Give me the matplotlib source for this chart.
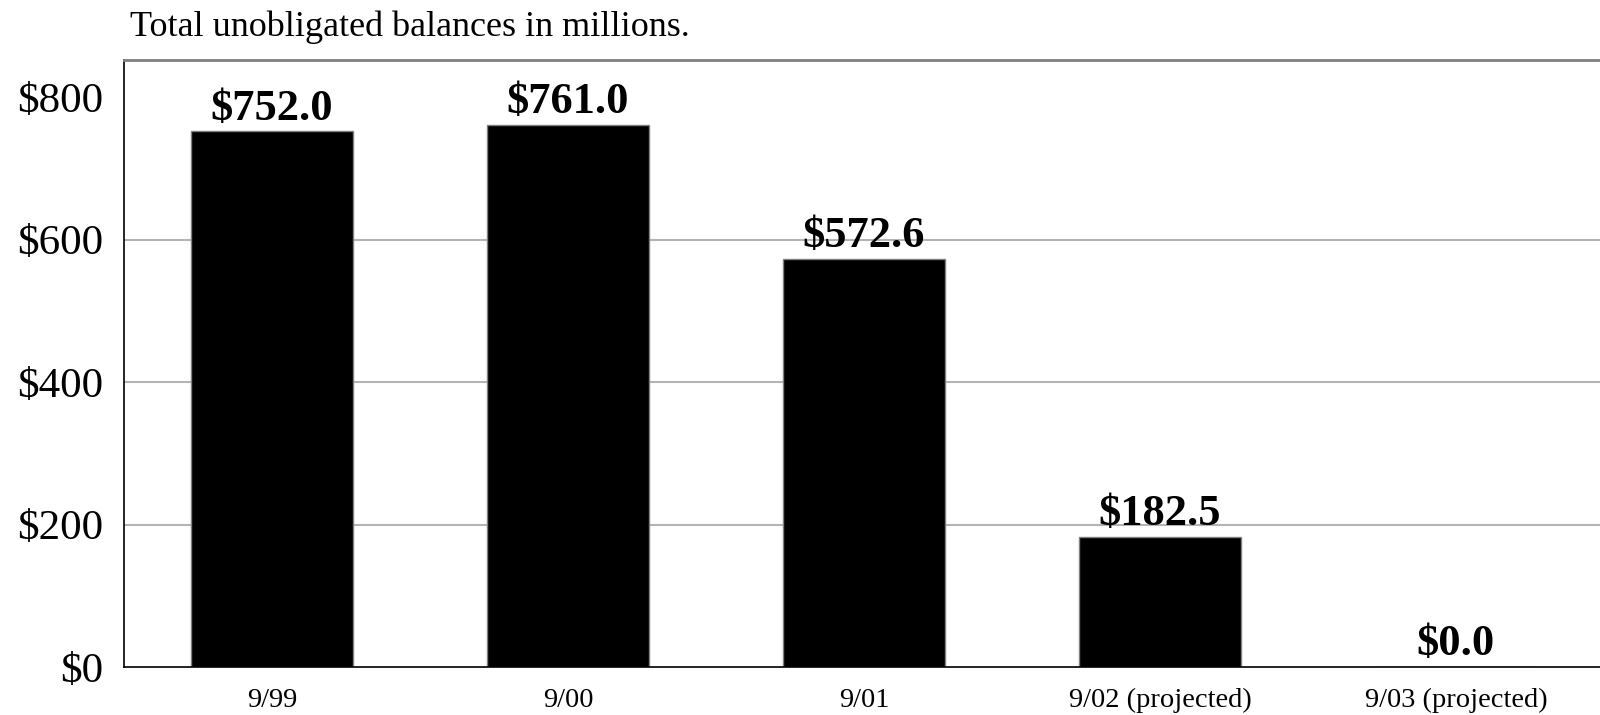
import numpy as np
import matplotlib.pyplot as plt

# ======================
# data
# ======================
periods = ["9/99", "9/00", "9/01", "9/02 (projected)", "9/03 (projected)"]
balances = [752.0, 761.0, 572.6, 182.5, 0.0]
y_ticks = [0, 200, 400, 600, 800]
grid_levels = [200, 400, 600]

plt.rcParams["font.family"] = ["Liberation Serif", "DejaVu Serif"]

fig = plt.figure(figsize=(16, 7.15), dpi=100)
ax = fig.add_axes([0.0775, 0.067, 0.925, 0.849])

positions = np.arange(len(periods))

for g in grid_levels:
    ax.axhline(g, color="#b4b4b4", linewidth=1.5, zorder=0)

bars = ax.bar(positions, balances, width=0.55, color="black",
              edgecolor="#808080", linewidth=1, zorder=2)

# value labels
for x, v in zip(positions, balances):
    ax.annotate(f"${v:,.1f}", xy=(x, v), xytext=(0, 2),
                textcoords="offset points", ha="center", va="bottom",
                fontsize=32, fontweight="bold", color="black")

ax.set_xlim(-0.5, 4.5)
ax.set_ylim(0, 852)
ax.set_xticks(positions)
ax.set_xticklabels(periods, fontsize=20.5)
ax.set_yticks(y_ticks)
ax.set_yticklabels([f"${t}" for t in y_ticks], fontsize=31)
ax.tick_params(axis="both", length=0)
ax.tick_params(axis="y", pad=15)
ax.tick_params(axis="x", pad=15)

ax.spines["top"].set_color("#808080")
ax.spines["top"].set_linewidth(2)
ax.spines["right"].set_visible(False)
ax.spines["left"].set_color("black")
ax.spines["left"].set_linewidth(1.2)
ax.spines["bottom"].set_color("black")
ax.spines["bottom"].set_linewidth(1.2)

fig.text(0.081, 0.962, "Total unobligated balances in millions.",
         fontsize=26, ha="left", va="center")

fig.savefig("out.png", dpi=100)
